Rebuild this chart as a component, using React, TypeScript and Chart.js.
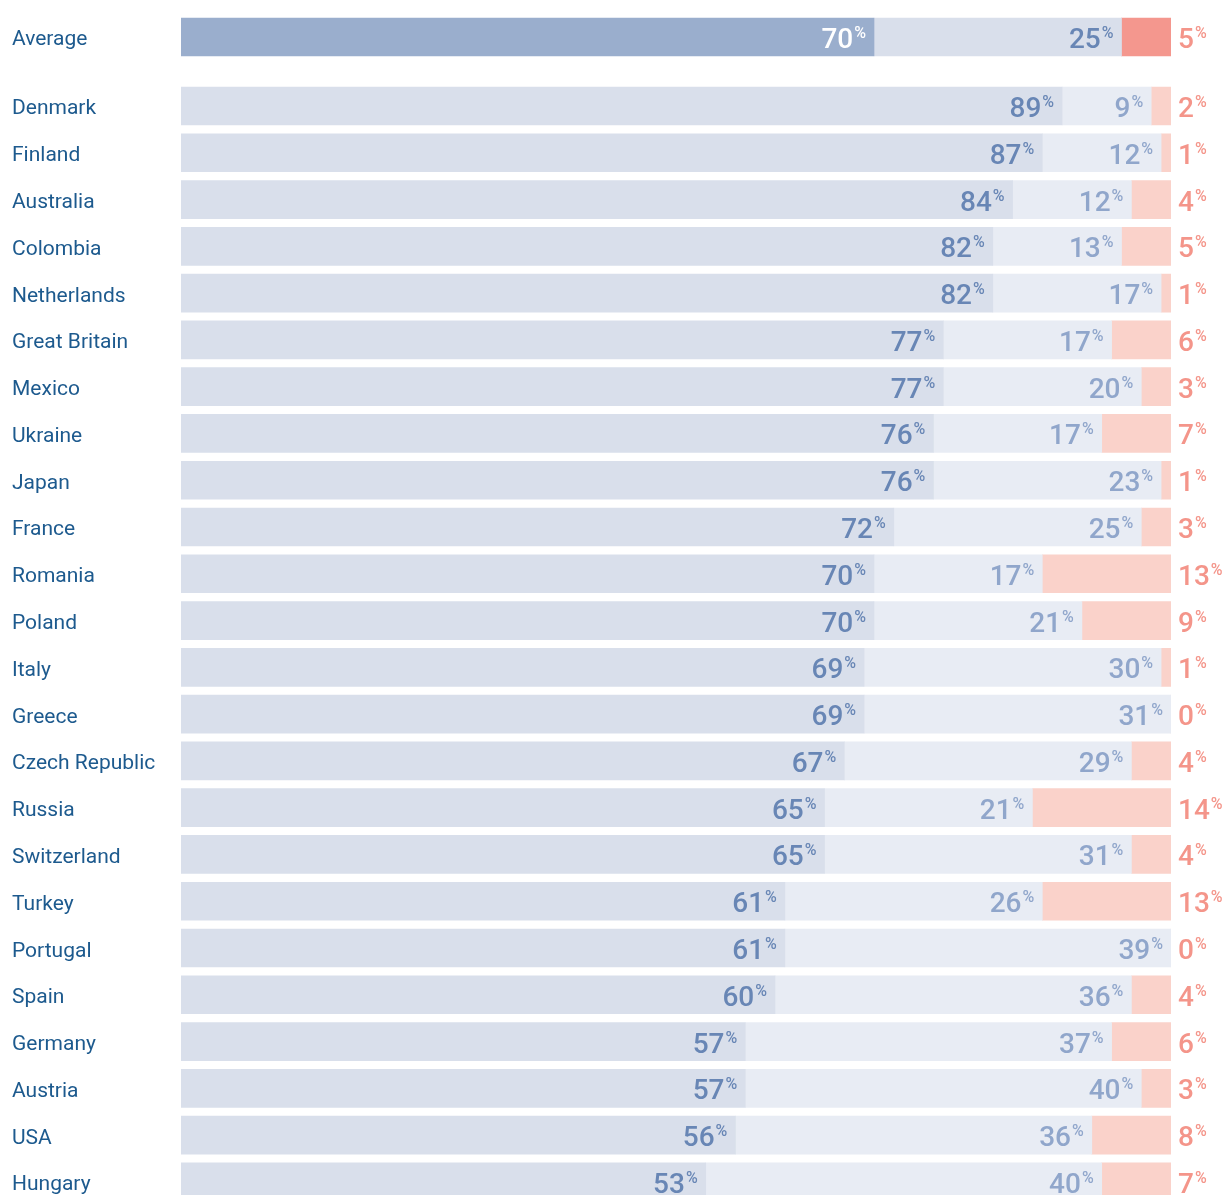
import React, { useEffect, useRef } from 'react';
import { Chart, registerables } from 'chart.js';

Chart.register(...registerables);

const categories = [
  'Average', 'Denmark', 'Finland', 'Australia', 'Colombia', 'Netherlands', 'Great Britain',
  'Mexico', 'Ukraine', 'Japan', 'France', 'Romania', 'Poland', 'Italy', 'Greece',
  'Czech Republic', 'Russia', 'Switzerland', 'Turkey', 'Portugal', 'Spain', 'Germany',
  'Austria', 'USA', 'Hungary',
];
const firstValues = [70, 89, 87, 84, 82, 82, 77, 77, 76, 76, 72, 70, 70, 69, 69, 67, 65, 65, 61, 61, 60, 57, 57, 56, 53];
const secondValues = [25, 9, 12, 12, 13, 17, 17, 20, 17, 23, 25, 17, 21, 30, 31, 29, 21, 31, 26, 39, 36, 37, 40, 36, 40];
const thirdValues = [5, 2, 1, 4, 5, 1, 6, 3, 7, 1, 3, 13, 9, 1, 0, 4, 14, 4, 13, 0, 4, 6, 3, 8, 7];

const W = 1219;
const H = 1187;
const AVERAGE_GAP = 0.475;
const LABEL_COLOR = '#1d5a8e';
const NUM_FONT = '500 28px Roboto';
const PCT_FONT = '500 16px Roboto';

export default function App() {
  const ref = useRef<HTMLCanvasElement>(null);
  useEffect(() => {
    const canvas = ref.current!;
    const rowPos = categories.map((_, i) => (i === 0 ? 0 : i + AVERAGE_GAP));
    const mk = (vals: number[]) => vals.map((v, i) => ({ x: v, y: rowPos[i] }));
    const allVals = [firstValues, secondValues, thirdValues];

    const labelPlugin = {
      id: 'valueLabels',
      afterDatasetsDraw(chart: any) {
        const ctx = chart.ctx as CanvasRenderingContext2D;
        const yS = chart.scales.y;
        const area = chart.chartArea;
        ctx.save();
        categories.forEach((name, i) => {
          const cy = yS.getPixelForValue(rowPos[i]);
          ctx.font = '400 21px Roboto';
          ctx.fillStyle = LABEL_COLOR;
          ctx.textAlign = 'left';
          ctx.textBaseline = 'alphabetic';
          ctx.fillText(name, 4, cy + 8.5);
          for (let d = 0; d < 3; d++) {
            const el = chart.getDatasetMeta(d).data[i];
            const num = String(allVals[d][i]);
            ctx.font = NUM_FONT;
            const nw = ctx.measureText(num).width;
            ctx.font = PCT_FONT;
            const pw = ctx.measureText('%').width;
            let left: number;
            let color: string;
            if (d < 2) {
              left = el.x - 8 - pw - nw - 1;
              if (i === 0) color = d === 0 ? '#ffffff' : '#6886b5';
              else color = d === 0 ? '#6886b5' : '#90a6cb';
            } else {
              left = area.right + 7;
              color = '#f4958a';
            }
            ctx.fillStyle = color;
            ctx.textAlign = 'left';
            ctx.textBaseline = 'alphabetic';
            ctx.font = NUM_FONT;
            ctx.fillText(num, left, cy + 11);
            ctx.font = PCT_FONT;
            ctx.fillText('%', left + nw + 1, cy + 1);
          }
        });
        ctx.restore();
      },
    };

    const chart = new Chart(canvas, {
      type: 'bar',
      data: {
        datasets: [
          {
            data: mk(firstValues) as any,
            backgroundColor: categories.map((_, i) => (i === 0 ? '#9aaecd' : '#d9dfeb')),
            barThickness: 38,
            borderWidth: 0,
          },
          {
            data: mk(secondValues) as any,
            backgroundColor: categories.map((_, i) => (i === 0 ? '#d9dfeb' : '#e8ecf4')),
            barThickness: 38,
            borderWidth: 0,
          },
          {
            data: mk(thirdValues) as any,
            backgroundColor: categories.map((_, i) => (i === 0 ? '#f4978e' : '#fad2ca')),
            barThickness: 38,
            borderWidth: 0,
          },
        ],
      },
      options: {
        indexAxis: 'y',
        responsive: false,
        animation: false,
        devicePixelRatio: 1,
        layout: { padding: { left: 173, right: 56, top: 5.6, bottom: 0 } },
        scales: {
          x: { type: 'linear', stacked: true, min: 0, max: 100, display: false, offset: false },
          y: {
            type: 'linear', stacked: true, reverse: true, min: -0.5, max: 24.755,
            display: false, offset: false, grace: 0,
          },
        },
        plugins: { legend: { display: false }, tooltip: { enabled: false } },
      } as any,
      plugins: [labelPlugin],
    });
    return () => chart.destroy();
  }, []);
  return (
    <canvas
      ref={ref}
      width={W}
      height={H}
      style={{ display: 'block', position: 'fixed', top: 8, left: 8, width: W, height: H }}
    />
  );
}
